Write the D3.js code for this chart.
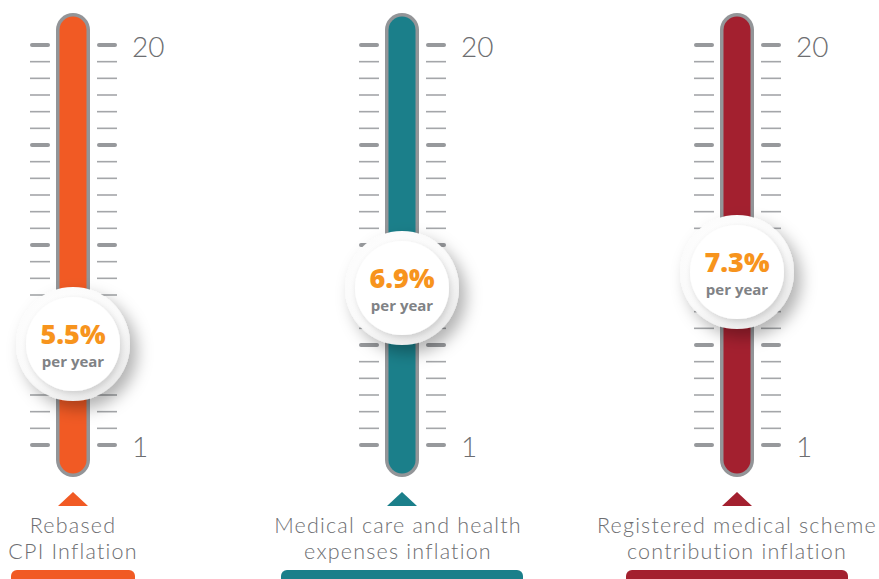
<!DOCTYPE html>
<html><head><meta charset="utf-8">
<script src="https://cdn.jsdelivr.net/npm/d3@7"></script>
<style>body{margin:0;background:#fff;overflow:hidden}</style>
</head><body><svg id="c" width="879" height="579"></svg>
<script>
// ---- data ----
const categories = ["Rebased CPI Inflation", "Medical care and health expenses inflation", "Registered medical scheme contribution inflation"];
const labelLines = [["Rebased", "CPI Inflation"], ["Medical care and health", "expenses inflation"], ["Registered medical scheme", "contribution inflation"]];
const values = [5.5, 6.9, 7.3];
const valueLabels = ["5.5%", "6.9%", "7.3%"];
const unitLabel = "per year";
const scaleMin = 1, scaleMax = 20;
const tickLabels = [20, 1];

// ---- layout / style ----
const colors = ["#F15A24", "#1B7F8A", "#A3202F"];
const centers = [73, 402, 737];
const barWidths = [124, 242, 222];
const svg = d3.select("#c");

const x = d3.scaleOrdinal().domain(categories).range(centers);
const y = d3.scaleLinear().domain([scaleMin, scaleMax]).range([445, 45]);
const ym = d3.scaleLinear().domain([5, 8]).range([364, 244]);

const nTicks = 25;
const tickVals = d3.range(nTicks).map(i => scaleMin + i * (scaleMax - scaleMin) / (nTicks - 1));

const defs = svg.append("defs");
const f1 = defs.append("filter").attr("id", "sh1").attr("x", "-50%").attr("y", "-50%").attr("width", "200%").attr("height", "200%");
f1.append("feDropShadow").attr("dx", 7).attr("dy", 8).attr("stdDeviation", 8).attr("flood-color", "#000").attr("flood-opacity", 0.3);
const f2 = defs.append("filter").attr("id", "sh2").attr("x", "-50%").attr("y", "-50%").attr("width", "200%").attr("height", "200%");
f2.append("feDropShadow").attr("dx", 2).attr("dy", 3).attr("stdDeviation", 3).attr("flood-color", "#000").attr("flood-opacity", 0.16);
const rg = defs.append("radialGradient").attr("id", "rg").attr("cx", "40%").attr("cy", "35%").attr("r", "70%");
rg.append("stop").attr("offset", "0%").attr("stop-color", "#ffffff");
rg.append("stop").attr("offset", "75%").attr("stop-color", "#fafafa");
rg.append("stop").attr("offset", "100%").attr("stop-color", "#e9e9e9");

const g = svg.selectAll("g.th").data(categories).join("g").attr("class", "th");

g.each(function(cat, i) {
  const s = d3.select(this);
  const cx = x(cat);
  // ticks
  tickVals.forEach((v, k) => {
    const major = k % 6 === 0;
    [[cx - 43, cx - 23], [cx + 24, cx + 44]].forEach(([a, b]) => {
      s.append("line")
        .attr("x1", major ? a + 2 : a).attr("x2", major ? b - 2 : b)
        .attr("y1", y(v)).attr("y2", y(v))
        .attr("stroke", major ? "#97999c" : "#a4a6a9")
        .attr("stroke-width", major ? 4 : 1.6)
        .attr("stroke-linecap", major ? "round" : "butt");
    });
  });
  tickLabels.forEach(t => {
    s.append("text").attr("x", cx + 59).attr("y", y(t)).attr("dy", "0.42em")
      .attr("font-family", "Lato, sans-serif").attr("font-weight", 300)
      .attr("font-size", 28).attr("fill", "#6d6e71").text(t);
  });
  // tube
  s.append("rect").attr("x", cx - 17).attr("y", 13).attr("width", 34).attr("height", 464)
    .attr("rx", 17).attr("fill", "#939598");
  s.append("rect").attr("x", cx - 13.5).attr("y", 16.5).attr("width", 27).attr("height", 457)
    .attr("rx", 13.5).attr("fill", colors[i]);
  // marker
  const cy = ym(values[i]);
  s.append("circle").attr("cx", cx).attr("cy", cy).attr("r", 57).attr("fill", "url(#rg)").attr("filter", "url(#sh1)");
  s.append("circle").attr("cx", cx).attr("cy", cy).attr("r", 47).attr("fill", "#fff").attr("filter", "url(#sh2)");
  s.append("text").attr("x", cx).attr("y", cy).attr("text-anchor", "middle")
    .attr("font-family", "'Open Sans', sans-serif").attr("font-weight", 800)
    .attr("font-size", 27).attr("fill", "#F7941D").text(valueLabels[i]);
  s.append("text").attr("x", cx).attr("y", cy + 23).attr("text-anchor", "middle")
    .attr("font-family", "'Open Sans', sans-serif").attr("font-weight", 700)
    .attr("font-size", 15).attr("fill", "#808285").text(unitLabel);
  // triangle
  s.append("path").attr("d", `M${cx - 15},506 L${cx},492 L${cx + 15},506 Z`).attr("fill", colors[i]);
  // labels
  labelLines[i].forEach((ln, j) => {
    s.append("text").attr("x", cx - (i === 1 ? 4 : 0)).attr("y", 533 + j * 26).attr("text-anchor", "middle")
      .attr("font-family", "Lato, sans-serif").attr("font-weight", 300)
      .attr("font-size", 21.5).attr("letter-spacing", 1.2).attr("fill", "#6d6e71").text(ln);
  });
  // bottom bar
  s.append("rect").attr("x", cx - barWidths[i] / 2).attr("y", 570).attr("width", barWidths[i]).attr("height", 20)
    .attr("rx", 6).attr("fill", colors[i]);
});
</script>
</body></html>
